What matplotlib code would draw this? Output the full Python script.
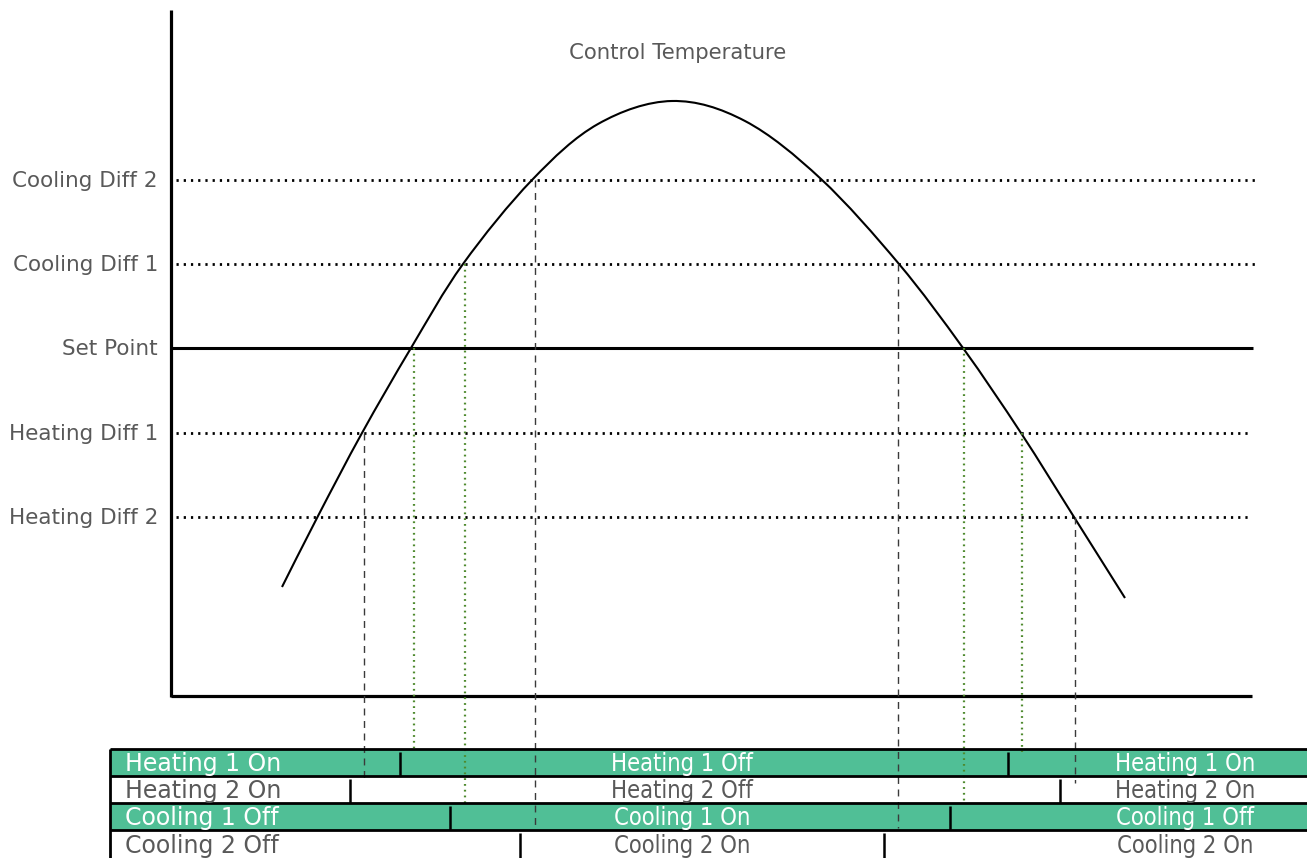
import matplotlib
matplotlib.use("Agg")
import matplotlib.pyplot as plt
from matplotlib import font_manager
from matplotlib.path import Path
from matplotlib.patches import PathPatch

# everything is in picture units (x right, y down)
W, H = 1307, 858

GRAY = "#595959"
GREEN = "#50BF96"
OLIVE = "#4E8A2E"

# temperature levels
levelNames = ["Cooling Diff 2", "Cooling Diff 1", "Set Point", "Heating Diff 1", "Heating Diff 2"]
levelY = [180, 264, 348, 433, 517]
levelEnd = [1255, 1255, 1253, 1250, 1248]

# control temperature curve
curveX = [282, 318, 362, 411, 463, 532, 598, 672, 745, 821, 899, 963, 1021, 1074, 1125]
curveY = [587, 516, 433, 348, 264, 180, 124, 101, 121, 179, 264, 348, 433, 517, 598]

# vertical drop lines: x, top, bottom, style
dropX = [364, 414, 465, 535, 898, 964, 1022, 1075]
dropTop = [433, 348, 264, 180, 264, 348, 433, 517]
dropBottom = [783, 748, 803, 828, 828, 803, 752, 783]
dropGreen = [False, True, True, False, False, True, True, False]

# state rows
rowTop = [749, 776, 803, 830]
rowBottom = [776, 803, 830, 858]
rowFill = [True, False, True, False]
rowLeft = ["Heating 1 On", "Heating 2 On", "Cooling 1 Off", "Cooling 2 Off"]
rowMid = ["Heating 1 Off", "Heating 2 Off", "Cooling 1 On", "Cooling 2 On"]
rowRight = ["Heating 1 On", "Heating 2 On", "Cooling 1 Off", "Cooling 2 On"]
switchX = [[400, 1008], [350, 1060], [450, 950], [520, 884]]


def smoothPath(xs, ys):
    # catmull-rom through the points, drawn as bezier segments
    pts = list(zip(xs, ys))
    verts = [pts[0]]
    codes = [Path.MOVETO]
    n = len(pts)
    for i in range(n - 1):
        p0 = pts[max(i - 1, 0)]
        p1 = pts[i]
        p2 = pts[i + 1]
        p3 = pts[min(i + 2, n - 1)]
        c1 = (p1[0] + (p2[0] - p0[0]) / 6, p1[1] + (p2[1] - p0[1]) / 6)
        c2 = (p2[0] - (p3[0] - p1[0]) / 6, p2[1] - (p3[1] - p1[1]) / 6)
        verts += [c1, c2, p2]
        codes += [Path.CURVE4] * 3
    return Path(verts, codes)


plt.rcParams["font.family"] = ["DejaVu Sans"]

# condensed face for the middle / right labels if it is there
names = [f.name + "|" + str(f.stretch) for f in font_manager.fontManager.ttflist if "DejaVu Sans" in f.name]
hasCond = any("condensed" in n.lower() for n in names)
midStretch = "condensed" if hasCond else "normal"
midSize = 17 if hasCond else 15.3

fig = plt.figure(figsize=(W / 100, H / 100), dpi=100)
ax = fig.add_axes([0, 0, 1, 1])
ax.set_xlim(0, W)
ax.set_ylim(H, 0)
ax.axis("off")

# axes frame
ax.plot([171, 171], [10, 697], color="black", lw=2.3, solid_capstyle="butt")
ax.plot([171, 1252], [696, 696], color="black", lw=2.3, solid_capstyle="butt")

ax.text(678, 53, "Control Temperature", color=GRAY, fontsize=15.3,
        ha="center", va="center")

# level lines and labels
for name, y, x2 in zip(levelNames, levelY, levelEnd):
    if name == "Set Point":
        ax.plot([171, x2], [y, y], color="black", lw=2.2, solid_capstyle="butt")
    else:
        ax.plot([176, x2], [y, y], color="black", lw=2.0,
                linestyle=(0, (0.8, 1.8)))
    ax.text(158, y + 1, name, color=GRAY, fontsize=15.5, ha="right", va="center")

# drop lines
for x, y1, y2, g in zip(dropX, dropTop, dropBottom, dropGreen):
    if g:
        ax.plot([x, x], [y1, y2], color=OLIVE, lw=1.6, linestyle=(0, (0.8, 1.8)))
    else:
        ax.plot([x, x], [y1, y2], color="#3a3a3a", lw=1.0, linestyle=(0, (5, 4)))

# curve
ax.add_patch(PathPatch(smoothPath(curveX, curveY), facecolor="none",
                       edgecolor="black", lw=1.5))

# state table
for i in range(4):
    if rowFill[i]:
        ax.fill_between([110, W], rowTop[i], rowBottom[i], color=GREEN, lw=0, zorder=0)
    tc = "white" if rowFill[i] else GRAY
    yc = (rowTop[i] + rowBottom[i]) / 2 + 1.5
    ax.text(125, yc, rowLeft[i], color=tc, fontsize=17, ha="left", va="center")
    ax.text(682, yc, rowMid[i], color=tc, fontsize=midSize, fontstretch=midStretch,
            ha="center", va="center")
    ax.text(1185, yc, rowRight[i], color=tc, fontsize=midSize, fontstretch=midStretch,
            ha="center", va="center")
    for sx in switchX[i]:
        ax.plot([sx, sx], [rowTop[i] + 3, rowBottom[i]], color="black", lw=1.8,
                solid_capstyle="butt")

for y in rowTop:
    ax.plot([110, W], [y, y], color="black", lw=2.0, solid_capstyle="butt")
ax.plot([110, 110], [rowTop[0], H], color="black", lw=2.0, solid_capstyle="butt")

fig.savefig("out.png", dpi=100)
